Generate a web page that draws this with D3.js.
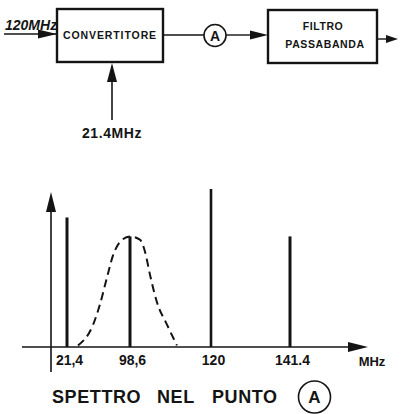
<!DOCTYPE html>
<html>
<head>
<meta charset="utf-8">
<script src="https://cdn.jsdelivr.net/npm/d3@7"></script>
<style>
  html, body { margin: 0; padding: 0; background: #fff; }
  svg { display: block; }
  text { font-family: "Liberation Sans", Arial, sans-serif; font-weight: bold; fill: #141414; }
</style>
</head>
<body>
<svg id="chart" width="406" height="414"></svg>
<script>
// ---- data ----
const freqs = [21.4, 98.6, 120, 141.4];            // MHz, spectral lines at point A
const tickLabels = ["21,4", "98,6", "120", "141.4"];
const amplitudes = [8.2, 7.0, 10, 7.0];            // relative line heights
const filterFreq = [34.9, 53.3, 61.8, 70.4, 77.8, 86.3, 98.6, 101.2, 102.6, 103.9, 105.7, 108.4, 111.0];
const filterGain = [0.1, 1.4, 2.7, 4.4, 5.8, 6.65, 7.0, 6.8, 6.0, 4.55, 2.85, 1.4, 0.1];
const unitLabel = "MHz";
const titleWords = ["SPETTRO", "NEL", "PUNTO"];
const blockLabels = ["CONVERTITORE", "FILTRO", "PASSABANDA"];
const inputLabel = "120MHz";
const loLabel = "21.4MHz";
const nodeLabel = "A";

const ink = "#141414";
const svg = d3.select("#chart");

function arrowHead(g, x, y, dir, len, half) {
  let pts;
  if (dir === 'r') pts = [[x, y], [x - len, y - half], [x - len, y + half]];
  else pts = [[x, y], [x - half, y + len], [x + half, y + len]];
  g.append("path").attr("d", "M" + pts.map(p => p.join(",")).join("L") + "Z").attr("fill", ink);
}

// ---- block diagram ----
const blk = svg.append("g");
blk.append("line").attr("x1", 4).attr("y1", 34).attr("x2", 56).attr("y2", 34).attr("stroke", ink).attr("stroke-width", 1.6);
arrowHead(blk, 57, 34, 'r', 19, 4.5);
blk.append("text").attr("x", 5).attr("y", 30).attr("font-size", 14).attr("font-style", "italic").text(inputLabel);
blk.append("rect").attr("x", 57).attr("y", 9).attr("width", 106).attr("height", 53)
  .attr("fill", "none").attr("stroke", ink).attr("stroke-width", 2.4);
blk.append("text").attr("x", 110).attr("y", 38.5).attr("text-anchor", "middle")
  .attr("font-size", 10.5).attr("letter-spacing", 0.9).text(blockLabels[0]);
blk.append("line").attr("x1", 112).attr("y1", 120).attr("x2", 112).attr("y2", 75).attr("stroke", ink).attr("stroke-width", 1.6);
arrowHead(blk, 112, 63, 'u', 19, 5);
blk.append("text").attr("x", 112).attr("y", 138).attr("text-anchor", "middle")
  .attr("font-size", 14).attr("letter-spacing", 0.6).text(loLabel);
blk.append("line").attr("x1", 163).attr("y1", 35).attr("x2", 204).attr("y2", 35).attr("stroke", ink).attr("stroke-width", 1.4);
blk.append("circle").attr("cx", 215).attr("cy", 35.5).attr("r", 11).attr("fill", "#fff").attr("stroke", ink).attr("stroke-width", 1.6);
blk.append("text").attr("x", 215).attr("y", 40.5).attr("text-anchor", "middle").attr("font-size", 14).text(nodeLabel);
blk.append("line").attr("x1", 226).attr("y1", 35).attr("x2", 255).attr("y2", 35).attr("stroke", ink).attr("stroke-width", 1.4);
arrowHead(blk, 268, 35, 'r', 18, 4.5);
blk.append("rect").attr("x", 268).attr("y", 10).attr("width", 109).attr("height", 53)
  .attr("fill", "none").attr("stroke", ink).attr("stroke-width", 2.4);
blk.append("text").attr("x", 323).attr("y", 30).attr("text-anchor", "middle")
  .attr("font-size", 10.5).attr("letter-spacing", 0.6).text(blockLabels[1]);
blk.append("text").attr("x", 325).attr("y", 47.5).attr("text-anchor", "middle")
  .attr("font-size", 10.5).attr("letter-spacing", 0.6).text(blockLabels[2]);
blk.append("line").attr("x1", 377).attr("y1", 39).attr("x2", 388).attr("y2", 39).attr("stroke", ink).attr("stroke-width", 1.4);
arrowHead(blk, 398, 39, 'r', 12, 4);

// ---- spectrum ----
const x = d3.scaleLinear().domain(freqs).range([67, 130, 211, 290]);
const y = d3.scaleLinear().domain([0, 10]).range([347, 189]);
const spec = svg.append("g");

const y0 = y(0);
spec.append("line").attr("x1", 22).attr("y1", y0).attr("x2", 352).attr("y2", y0).attr("stroke", ink).attr("stroke-width", 1.6);
arrowHead(spec, 368, y0, 'r', 20, 5);
spec.append("line").attr("x1", 51).attr("y1", 372).attr("x2", 51).attr("y2", 208).attr("stroke", ink).attr("stroke-width", 1.6);
arrowHead(spec, 51, 192, 'u', 20, 5);

const line = d3.line().x(d => x(d[0])).y(d => y(d[1])).curve(d3.curveMonotoneX);
spec.append("path").attr("d", line(filterFreq.map((f, i) => [f, filterGain[i]])))
  .attr("fill", "none").attr("stroke", ink).attr("stroke-width", 2).attr("stroke-dasharray", "8,5");

spec.selectAll("line.bar").data(freqs).join("line").attr("class", "bar")
  .attr("x1", d => x(d)).attr("x2", d => x(d))
  .attr("y1", y0).attr("y2", (d, i) => y(amplitudes[i]))
  .attr("stroke", ink).attr("stroke-width", (d, i) => i === 2 ? 2.6 : 3);

const ax = d3.axisBottom(x).tickValues(freqs).tickSize(0).tickPadding(0)
  .tickFormat((d, i) => tickLabels[i]);
const axg = spec.append("g").attr("transform", `translate(2,${y0})`).call(ax);
axg.select(".domain").remove();
axg.selectAll("text").attr("y", 18).attr("dy", null).attr("font-size", 14)
  .attr("font-family", "Liberation Sans, Arial, sans-serif").attr("font-weight", "bold").attr("fill", ink);

spec.append("text").attr("x", 372).attr("y", 365.5).attr("text-anchor", "middle").attr("font-size", 13).text(unitLabel);

const tx = [52, 157, 212];
titleWords.forEach((w, i) => {
  spec.append("text").attr("x", tx[i]).attr("y", 403).attr("font-size", 18)
    .attr("letter-spacing", 0.6).text(w);
});
spec.append("circle").attr("cx", 314.5).attr("cy", 397).attr("r", 16).attr("fill", "none").attr("stroke", ink).attr("stroke-width", 1.6);
spec.append("text").attr("x", 314.5).attr("y", 403).attr("text-anchor", "middle").attr("font-size", 17).text(nodeLabel);
</script>
</body>
</html>
